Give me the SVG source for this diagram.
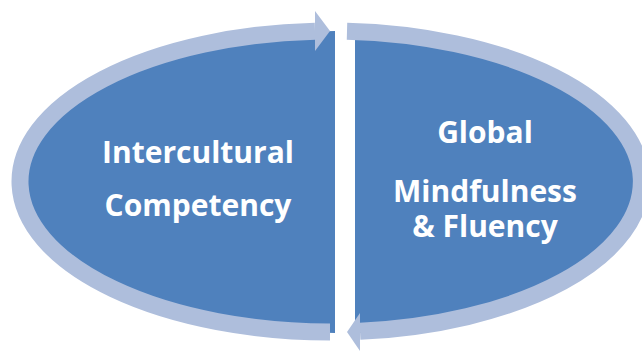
<svg xmlns="http://www.w3.org/2000/svg" width="642" height="351" viewBox="0 0 642 351">
<style>
.half{fill:#4F81BD}
.ring{fill:none;stroke:#AEBEDC;stroke-width:17;stroke-linecap:butt}
.head{fill:#AEBEDC}
.lbl{font-family:"Open Sans","Liberation Sans",sans-serif;font-weight:bold;font-size:30px;fill:#FFFFFF;text-anchor:middle}
</style>
<rect width="642" height="351" fill="#FFFFFF"/>
<g id="node-intercultural">
<path class="half" d="M335 31 A315 151 0 0 0 335 333 Z"/>
<text class="lbl"><tspan x="198" y="163">Intercultural</tspan><tspan x="198" y="216">Competency</tspan></text>
</g>
<g id="node-global">
<path class="half" d="M355 31 A285 151 0 0 1 355 333 Z"/>
<text class="lbl"><tspan x="485" y="143">Global</tspan><tspan x="485" y="202">Mindfulness</tspan><tspan x="485" y="237">&amp; Fluency</tspan></text>
</g>
<g id="connectors">
<path class="ring" d="M315 31.2 A311 150.5 0 0 0 330 332"/>
<polygon class="head" points="315,11 330,31 315,51"/>
<path class="ring" d="M347 31.2 A311 150.5 0 0 1 360 331.3"/>
<polygon class="head" points="360,313 347,332 360,351"/>
</g>
</svg>
